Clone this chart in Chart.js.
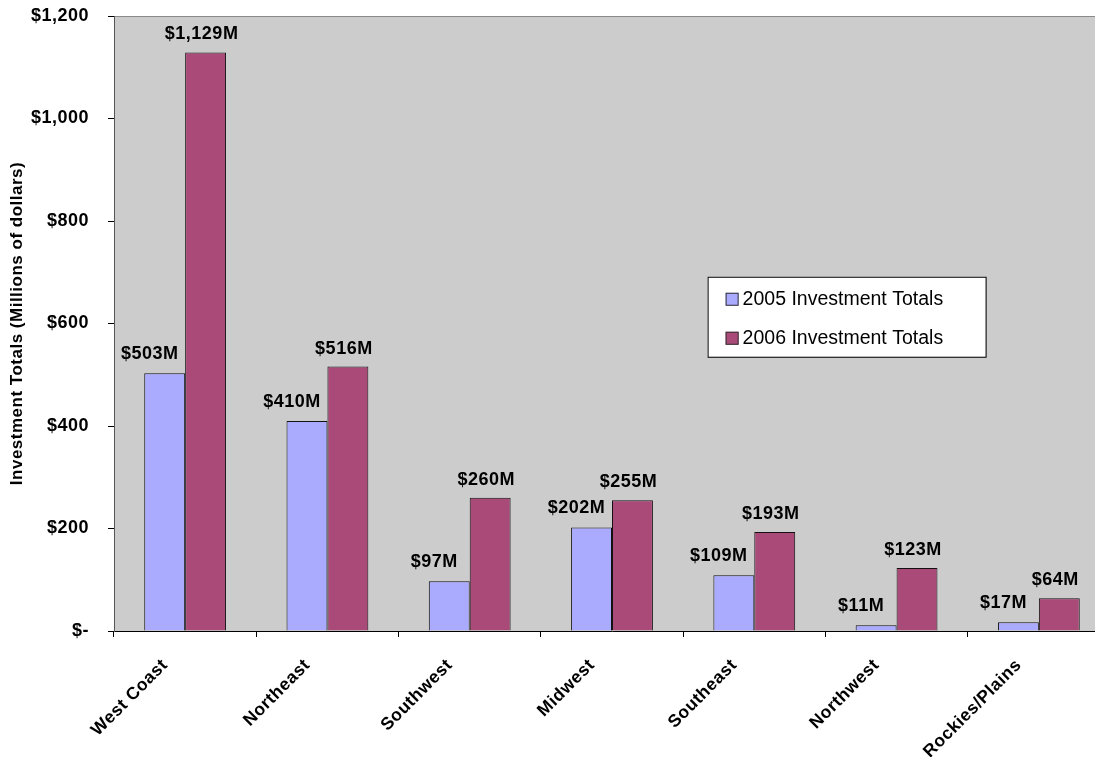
<!DOCTYPE html>
<html>
<head>
<meta charset="utf-8">
<script src="https://cdn.jsdelivr.net/npm/chart.js@4/dist/chart.umd.min.js"></script>
<style>
html,body{margin:0;padding:0;background:#fff;overflow:hidden;width:1095px;height:757px;}
#wrap{position:absolute;left:0;top:0;width:1110px;height:757px;}
</style>
</head>
<body>
<div id="wrap"><canvas id="c" width="1110" height="757"></canvas></div>
<script>
const categories = ['West Coast','Northeast','Southwest','Midwest','Southeast','Northwest','Rockies/Plains'];
const values2005 = [503, 410, 97, 202, 109, 11, 17];
const values2006 = [1129, 516, 260, 255, 193, 123, 64];
const seriesNames = ['2005 Investment Totals','2006 Investment Totals'];
const yTicks = [0, 200, 400, 600, 800, 1000, 1200];

const COL05 = '#aaaaff';
const COL06 = '#a94a78';
const FONT = 'Arial, "Liberation Sans", sans-serif';

function money(v){ return v === 0 ? '$-' : '$' + v.toLocaleString('en-US'); }

const bgPlugin = {
  id: 'plotbg',
  beforeDraw(chart){
    const {ctx, chartArea:a} = chart;
    ctx.letterSpacing = '0.5px';
    ctx.save();
    ctx.fillStyle = '#cccccc';
    ctx.fillRect(a.left, a.top, a.right - a.left, a.bottom - a.top);
    ctx.strokeStyle = '#8a8a8a';
    ctx.lineWidth = 1;
    ctx.beginPath();
    ctx.moveTo(a.left, a.top + 0.5);
    ctx.lineTo(a.right, a.top + 0.5);
    ctx.stroke();
    ctx.restore();
  }
};

const labelPlugin = {
  id: 'barlabels',
  afterDatasetsDraw(chart){
    const ctx = chart.ctx;
    ctx.save();
    ctx.letterSpacing = '0.5px';
    ctx.font = 'bold 18px ' + FONT;
    ctx.fillStyle = '#000';
    ctx.textAlign = 'center';
    ctx.textBaseline = 'alphabetic';
    const shifts = [[-15, -14], [-4, -13]];
    chart.data.datasets.forEach((ds, di) => {
      const meta = chart.getDatasetMeta(di);
      meta.data.forEach((bar, i) => {
        const v = ds.data[i];
        ctx.fillText('$' + v.toLocaleString('en-US') + 'M', bar.x + shifts[di][0], bar.y + shifts[di][1]);
      });
    });
    ctx.restore();
  }
};

const legendPlugin = {
  id: 'boxlegend',
  afterDraw(chart){
    const {ctx, chartArea:a} = chart;
    const w = a.right - a.left, h = a.bottom - a.top;
    const x = a.left + w * 0.596, y = a.top + h * 0.424;
    const bw = 278, bh = 80;
    ctx.save();
    ctx.letterSpacing = '0px';
    ctx.fillStyle = '#fff';
    ctx.fillRect(x, y, bw, bh);
    ctx.strokeStyle = '#000';
    ctx.lineWidth = 1;
    ctx.strokeRect(x + 0.5, y + 0.5, bw, bh);
    const cols = [COL05, COL06];
    ctx.font = '19.5px ' + FONT;
    ctx.textBaseline = 'middle';
    ctx.textAlign = 'left';
    seriesNames.forEach((n, i) => {
      const cy = y + 22 + i * 39;
      ctx.fillStyle = cols[i];
      ctx.fillRect(x + 18, cy - 6, 13, 13);
      ctx.strokeStyle = '#333';
      ctx.strokeRect(x + 18.5, cy - 5.5, 12, 12);
      ctx.fillStyle = '#000';
      ctx.fillText(n, x + 35, cy + 1);
    });
    ctx.restore();
  }
};

new Chart(document.getElementById('c'), {
  type: 'bar',
  data: {
    labels: categories,
    datasets: [
      { label: seriesNames[0], data: values2005, backgroundColor: COL05, borderColor: '#111', borderWidth: 1, borderSkipped: 'bottom' },
      { label: seriesNames[1], data: values2006, backgroundColor: COL06, borderColor: '#111', borderWidth: 1, borderSkipped: 'bottom' }
    ]
  },
  options: {
    responsive: false,
    animation: false,
    devicePixelRatio: 1,
    layout: { autoPadding: false, padding: { top: 16, left: 0, right: 0, bottom: 0 } },
    datasets: { bar: { categoryPercentage: 0.575, barPercentage: 1.0 } },
    plugins: { legend: { display: false }, tooltip: { enabled: false } },
    scales: {
      x: {
        grid: { display: true, drawOnChartArea: false, drawTicks: true, tickLength: 6, color: '#000', offset: true },
        border: { display: true, color: '#000', width: 1 },
        ticks: {
          color: '#000', font: { family: FONT, size: 17.5, weight: 'bold' },
          minRotation: 45, maxRotation: 45, autoSkip: false, labelOffset: -20, padding: 18
        },
        afterFit(scale){ scale.height = 126; }
      },
      y: {
        min: 0, max: 1200,
        afterBuildTicks(scale){ scale.ticks = yTicks.map(v => ({ value: v })); },
        grid: { display: true, drawOnChartArea: false, drawTicks: true, tickLength: 6, color: '#000' },
        border: { display: true, color: '#555', width: 1 },
        ticks: {
          color: '#000', font: { family: FONT, size: 18, weight: 'bold' }, padding: 19,
          callback: (v) => money(v)
        },
        title: {
          display: true, text: 'Investment Totals (Millions of dollars)', color: '#000',
          font: { family: FONT, size: 17, weight: 'bold' }, padding: { top: 7, bottom: 0 }
        },
        afterFit(scale){ scale.width = 114; scale.paddingTop = 0; scale.paddingBottom = 0; }
      }
    }
  },
  plugins: [bgPlugin, labelPlugin, legendPlugin]
});
</script>
</body>
</html>
